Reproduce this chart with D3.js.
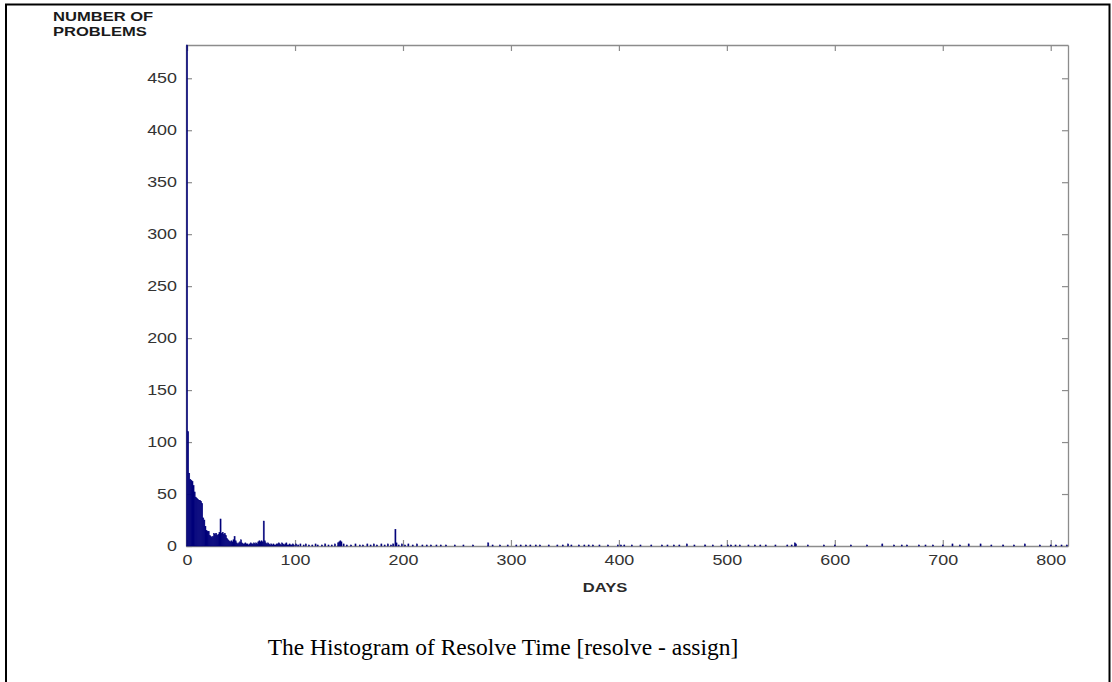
<!DOCTYPE html>
<html>
<head>
<meta charset="utf-8">
<script src="https://cdn.jsdelivr.net/npm/d3@7"></script>
<style>
  body { margin: 0; background: #fff; }
</style>
</head>
<body>
<script>
const width = 1112;
const height = 682;

// problems per day, days 0..99 (one bin per day)
const earlyCounts = [
  490, 110, 70, 64, 63, 62, 58, 52, 47, 46,
  45, 44, 44, 43, 41, 27, 25, 19, 15, 14,
  14, 10, 9, 8, 9, 12, 11, 12, 10, 11,
  13, 26, 12, 13, 11, 12, 10, 7, 6, 5,
  4, 5, 4, 6, 9, 5, 3, 2, 3, 4,
  6, 3, 2, 2, 3, 2, 2, 1, 2, 3,
  2, 2, 3, 2, 3, 2, 4, 5, 4, 5,
  4, 24, 5, 3, 2, 3, 2, 1, 2, 1,
  2, 1, 1, 2, 2, 3, 2, 1, 3, 2,
  1, 2, 3, 1, 1, 2, 1, 1, 2, 1,
];

// after day 100 the bins are sparse: [day, count]
const lateCounts = [
  [101, 2], [103, 1], [105, 2], [108, 1], [110, 2], [113, 1], [116, 1], [119, 2],
  [121, 1], [125, 1], [128, 2], [131, 1], [134, 1], [137, 2], [140, 3], [141, 4],
  [142, 5], [143, 4], [145, 2], [148, 1], [152, 1], [156, 2], [160, 1], [163, 1],
  [167, 2], [170, 1], [173, 2], [176, 1], [180, 2], [183, 1], [186, 2], [189, 1],
  [191, 2], [193, 16], [194, 3], [196, 1], [199, 2], [202, 1], [205, 2], [209, 1],
  [213, 2], [218, 1], [222, 1], [226, 1], [231, 1], [235, 1], [240, 1], [248, 1],
  [256, 1], [265, 1], [279, 3], [283, 1], [290, 1], [297, 1], [305, 1], [309, 1],
  [314, 1], [318, 1], [323, 1], [327, 1], [335, 1], [343, 1], [348, 1], [353, 2],
  [356, 1], [363, 1], [368, 1], [372, 1], [376, 1], [382, 1], [390, 1], [399, 1],
  [402, 1], [405, 1], [412, 1], [420, 1], [430, 1], [440, 1], [445, 1], [451, 1],
  [456, 1], [463, 2], [470, 1], [480, 1], [487, 1], [495, 1], [501, 1], [504, 1],
  [508, 1], [512, 1], [520, 1], [526, 1], [531, 1], [536, 1], [545, 1], [556, 1],
  [560, 1], [563, 3], [564, 2], [575, 1], [590, 1], [600, 1], [615, 1], [630, 1],
  [644, 2], [655, 1], [662, 1], [667, 1], [678, 1], [684, 1], [691, 1], [700, 1],
  [709, 2], [716, 1], [724, 2], [735, 2], [745, 1], [756, 1], [766, 1], [776, 2],
  [790, 1], [800, 1], [805, 1], [810, 1], [815, 1],
];

const xTicks = [0, 100, 200, 300, 400, 500, 600, 700, 800];
const yTicks = [0, 50, 100, 150, 200, 250, 300, 350, 400, 450];

const yLabel = ['NUMBER OF', 'PROBLEMS'];
const xLabel = 'DAYS';
const caption = 'The Histogram of Resolve Time [resolve - assign]';

const bins = earlyCounts.map((count, day) => ({ day, count }))
  .concat(lateCounts.map(([day, count]) => ({ day, count })));

// the scanned chart is stretched sideways, so is its text
const stretch = 1.38;
const tickStretch = 1.28;
const barColor = '#00007a';
const axisColor = '#8c8c8c';
const sans = '"Liberation Sans", Arial, sans-serif';

const plot = { left: 186, right: 1068, top: 45, bottom: 546 };

const x = d3.scaleLinear([-1, 816], [plot.left, plot.right]);
const y = d3.scaleLinear([0, 482], [plot.bottom, plot.top]).clamp(true);

const svg = d3.select('body')
  .append('svg')
  .attr('width', width)
  .attr('height', height)
  .attr('viewBox', [0, 0, width, height])
  .style('display', 'block');

// page frame
svg.append('rect')
  .attr('x', 6)
  .attr('y', 4.5)
  .attr('width', 1103.5)
  .attr('height', 720)
  .attr('fill', 'none')
  .attr('stroke', '#000')
  .attr('stroke-width', 2);

const styleAxis = g => {
  g.select('.domain').attr('stroke', axisColor).attr('stroke-width', 1.3);
  g.selectAll('.tick line').attr('stroke', axisColor).attr('stroke-width', 1.2);
  g.selectAll('.tick text')
    .attr('fill', '#333')
    .style('font', `14px ${sans}`)
    .attr('transform', `scale(${tickStretch},1)`);
};

svg.append('g')
  .attr('transform', `translate(0,${plot.bottom})`)
  .call(d3.axisBottom(x).tickValues(xTicks).tickSizeInner(-6).tickSizeOuter(0).tickPadding(9))
  .call(styleAxis);

svg.append('g')
  .attr('transform', `translate(0,${plot.top})`)
  .call(d3.axisTop(x).tickValues(xTicks).tickSizeInner(-6).tickSizeOuter(0).tickFormat(() => ''))
  .call(styleAxis);

svg.append('g')
  .attr('transform', `translate(${plot.left},0)`)
  .call(d3.axisLeft(y).tickValues(yTicks).tickSizeInner(-6).tickSizeOuter(0).tickPadding(10))
  .call(styleAxis)
  .call(g => g.selectAll('.tick text').attr('x', -9 / tickStretch));

svg.append('g')
  .attr('transform', `translate(${plot.right},0)`)
  .call(d3.axisRight(y).tickValues(yTicks).tickSizeInner(-6).tickSizeOuter(0).tickFormat(() => ''))
  .call(styleAxis);

svg.append('g')
  .selectAll('rect')
  .data(bins)
  .join('rect')
    .attr('x', d => x(d.day - 0.5))
    .attr('width', d => x(d.day + 0.5) - x(d.day - 0.5))
    .attr('y', d => y(d.count))
    .attr('height', d => y(0) - y(d.count))
    .attr('fill', barColor)
    .attr('stroke', barColor)
    .attr('stroke-width', 0.5);

svg.append('g')
  .selectAll('text')
  .data(yLabel)
  .join('text')
    .attr('transform', (d, i) => `translate(53,${21 + i * 15}) scale(${stretch},1)`)
    .attr('fill', '#1a1a1a')
    .style('font', `bold 12px ${sans}`)
    .text(d => d);

svg.append('text')
  .attr('transform', `translate(605,592) scale(${stretch},1)`)
  .attr('text-anchor', 'middle')
  .attr('fill', '#2a2a2a')
  .style('font', `bold 12px ${sans}`)
  .text(xLabel);

svg.append('text')
  .attr('x', 503)
  .attr('y', 655)
  .attr('text-anchor', 'middle')
  .attr('fill', '#000')
  .style('font', '23.5px "Liberation Serif", "Times New Roman", serif')
  .text(caption);
</script>
</body>
</html>
